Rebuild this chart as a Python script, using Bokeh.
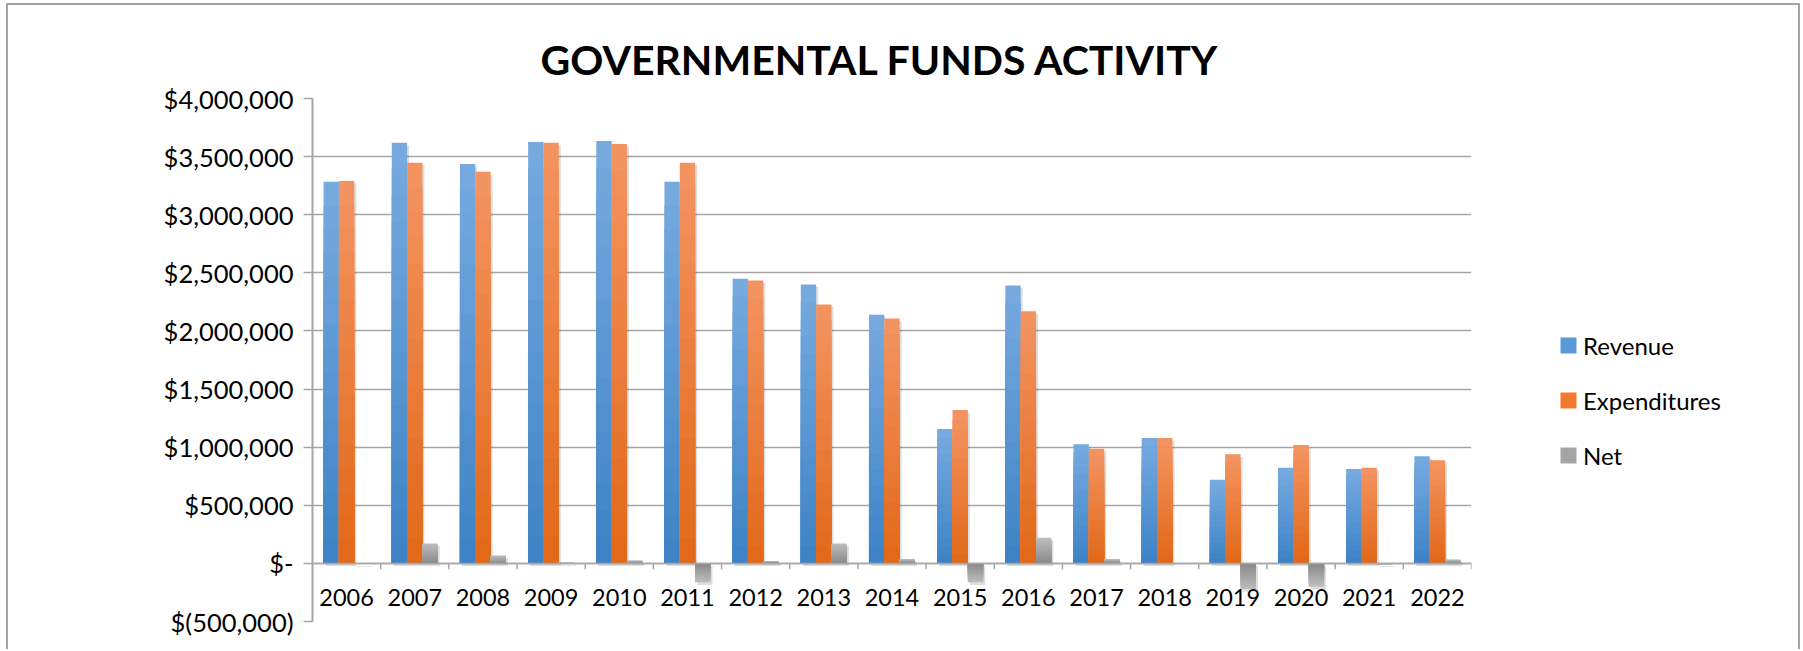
from bokeh.plotting import figure
from bokeh.layouts import row
from bokeh.models import (FactorRange, ColumnDataSource, Legend, LegendItem,
                          FixedTicker, Range1d)
from bokeh.transform import dodge
from bokeh.embed import file_html
from bokeh.resources import INLINE

# ---------------- data ----------------
years = ["2006", "2007", "2008", "2009", "2010", "2011", "2012", "2013", "2014",
         "2015", "2016", "2017", "2018", "2019", "2020", "2021", "2022"]
revenue = [3284000, 3619000, 3437000, 3625000, 3634000, 3284000, 2450000, 2400000,
           2140000, 1156000, 2390000, 1025000, 1078000, 719000, 822000, 812000, 922000]
expenditures = [3290000, 3447000, 3369000, 3619000, 3609000, 3447000, 2434000, 2228000,
                2106000, 1319000, 2169000, 987000, 1078000, 940000, 1019000, 822000, 887000]
net = [-6000, 172000, 68000, 6000, 25000, -163000, 20000, 172000,
       38000, -163000, 221000, 38000, 0, -221000, -200000, -10000, 33000]
series_names = ["Revenue", "Expenditures", "Net"]
y_ticks = [-500000, 0, 500000, 1000000, 1500000, 2000000, 2500000, 3000000, 3500000, 4000000]
y_tick_labels = ["$(500,000)", "$-", "$500,000", "$1,000,000", "$1,500,000", "$2,000,000",
                 "$2,500,000", "$3,000,000", "$3,500,000", "$4,000,000"]
title_text = "GOVERNMENTAL FUNDS ACTIVITY"

# ---------------- style ----------------
FONT = "Lato"
GRID = "#a6a6a6"
grad = {
    "Revenue": ("#76aadf", "#3f83c6"),
    "Expenditures": ("#f39360", "#e2691a"),
    "Net": ("#bcbcbc", "#8a8a8a"),
}
legend_colors = {"Revenue": "#5a9ad8", "Expenditures": "#ee7a30", "Net": "#a5a5a5"}
offsets = [-0.225, 0.0, 0.225]
BAR_W = 0.225
N_LEVELS = 16


def hex2rgb(h):
    h = h.lstrip("#")
    return tuple(int(h[i:i + 2], 16) for i in (0, 2, 4))


def mix(c1, c2, t):
    a, b = hex2rgb(c1), hex2rgb(c2)
    return "#%02x%02x%02x" % tuple(int(round(a[i] + (b[i] - a[i]) * t)) for i in range(3))


p = figure(x_range=FactorRange(factors=years), y_range=Range1d(-500000, 4000000),
           width=1473, height=644, output_backend="svg", toolbar_location=None,
           min_border_left=304, min_border_right=10, min_border_top=93,
           min_border_bottom=28, background_fill_color="white",
           border_fill_color="white", outline_line_color=None)

# title
p.title.text = title_text
p.title.text_font = FONT
p.title.text_font_style = "bold"
p.title.text_font_size = "41px"
p.title.text_color = "black"
p.title.align = "left"
p.title.offset = 228
p.title.standoff = 29

# y axis + grid
p.yaxis.ticker = FixedTicker(ticks=y_ticks)
p.yaxis.major_label_overrides = dict(zip(y_ticks, y_tick_labels))
p.yaxis.axis_line_color = GRID
p.yaxis.axis_line_width = 2
p.yaxis.major_tick_out = 9
p.yaxis.major_tick_in = 0
p.yaxis.major_tick_line_color = GRID
p.yaxis.major_tick_line_width = 1.5
p.yaxis.minor_tick_line_color = None
p.yaxis.major_label_text_font = FONT
p.yaxis.major_label_text_font_size = "25.5px"
p.yaxis.major_label_text_color = "black"
p.yaxis.major_label_standoff = 10
p.ygrid.ticker = FixedTicker(ticks=y_ticks)
p.ygrid.grid_line_color = GRID
p.ygrid.grid_line_width = 1.5
p.xgrid.visible = False

# x axis at zero
p.xaxis.fixed_location = 0
p.xaxis.axis_line_color = GRID
p.xaxis.axis_line_width = 1.5
p.xaxis.major_tick_line_color = None
p.xaxis.major_tick_out = 0
p.xaxis.major_tick_in = 0
p.xaxis.minor_tick_line_color = None
p.xaxis.major_label_text_font = FONT
p.xaxis.major_label_text_font_size = "23.5px"
p.xaxis.major_label_text_color = "black"
p.xaxis.major_label_standoff = 26

# boundary ticks on category axis
tick_src = ColumnDataSource(dict(year=years, base=[0] * len(years),
                                 tip=[-50000] * len(years)))
p.segment(x0=dodge("year", 0.5, range=p.x_range), y0="base",
          x1=dodge("year", 0.5, range=p.x_range), y1="tip",
          line_color=GRID, line_width=1.5, source=tick_src)

# bars (gradient built from nested bars, plus a soft shadow)
for name, vals, off in zip(series_names, [revenue, expenditures, net], offsets):
    top_c, bot_c = grad[name]
    sh = ColumnDataSource(dict(year=years, top=[v - 22000 for v in vals],
                               bottom=[-22000] * len(vals)))
    p.vbar(x=dodge("year", off + 0.03, range=p.x_range), top="top", bottom="bottom",
           width=BAR_W, source=sh, fill_color="black", fill_alpha=0.13, line_color=None)
    for k in range(N_LEVELS, 0, -1):
        t = (N_LEVELS - k) / (N_LEVELS - 1)
        col = mix(top_c, bot_c, t)
        src = ColumnDataSource(dict(year=years, top=[v * k / N_LEVELS for v in vals]))
        p.vbar(x=dodge("year", off, range=p.x_range), top="top", bottom=0,
               width=BAR_W, source=src, fill_color=col, line_color=None)

# legend panel to the right (zero-size proxy glyphs carry the legend colours)
pl = figure(width=317, height=644, output_backend="svg", toolbar_location=None,
            x_range=Range1d(0, 1), y_range=Range1d(0, 1),
            x_axis_location=None, y_axis_location=None,
            min_border=0, outline_line_color=None,
            background_fill_color="white", border_fill_color="white")
pl.grid.visible = False
items = []
for name in series_names:
    proxy = ColumnDataSource(dict(x=[0.5], top=[0.0], bottom=[0.0]))
    r = pl.vbar(x="x", top="top", bottom="bottom", width=0.0, source=proxy,
                fill_color=legend_colors[name], line_color=None)
    items.append(LegendItem(label=name, renderers=[r]))
legend = Legend(items=items, location=(77, 151), orientation="vertical",
                glyph_width=20, glyph_height=20, label_height=30, label_standoff=5,
                spacing=25, padding=0, margin=0, border_line_color=None,
                background_fill_alpha=0, label_text_font=FONT,
                label_text_font_size="24px", label_text_color="black")
pl.add_layout(legend, "center")

layout = row(p, pl, spacing=0)
layout.styles = {"border": "2px solid #a3a3a3", "border-bottom": "none",
                 "margin-left": "6px", "margin-top": "3px"}

open("out.html", "w").write(file_html(layout, INLINE))
